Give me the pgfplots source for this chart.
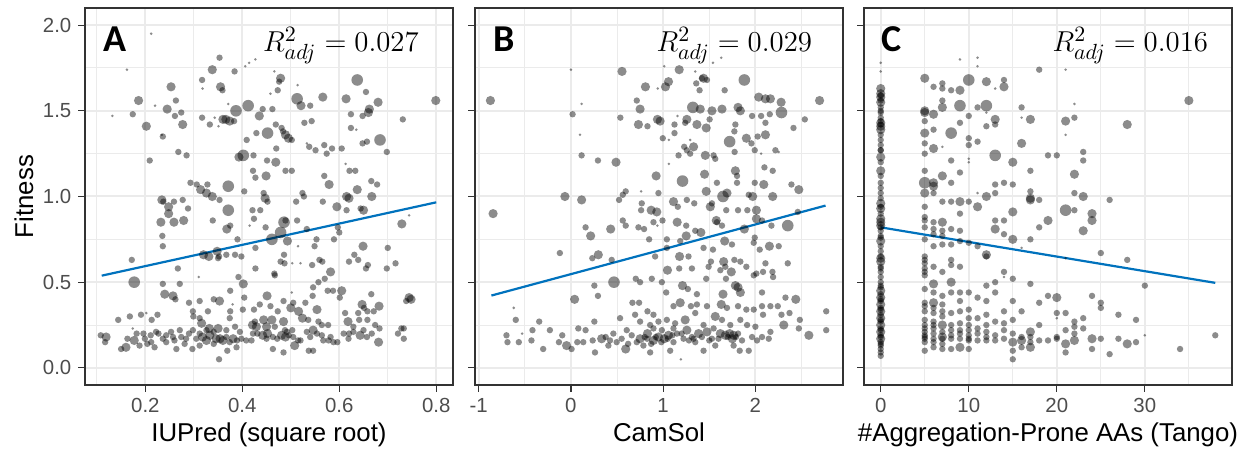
\documentclass[border=0pt]{standalone}
\usepackage[no-math]{fontspec}
\setmainfont{Liberation Sans}
\newfontfamily\tagfont{Carlito}
\usepackage{pgfplots}
\usepackage{pgfplotstable}
\pgfplotsset{compat=1.18}

\definecolor{gridc}{HTML}{EBEBEB}
\definecolor{framec}{HTML}{333333}
\definecolor{tickc}{HTML}{4D4D4D}
\definecolor{fitc}{HTML}{0072BD}

% IUPred (square root) vs fitness; s = point size class
\pgfplotstableread[row sep=\\]{
x y s\\
0.212 1.95 0.65\\ 0.427 1.80 0.65\\ 0.414 1.78 0.65\\ 0.406 1.76 0.65\\ 0.353 1.81 1.3\\ 0.162 1.74 0.65\\ 0.338 1.74 1.85\\ 0.384 1.73 1.3\\
0.466 1.73 0.65\\ 0.317 1.68 1.3\\ 0.479 1.69 1.85\\ 0.476 1.67 1.3\\ 0.637 1.68 2.4\\ 0.253 1.64 1.85\\ 0.355 1.64 1.85\\ 0.359 1.62 1.3\\
0.318 1.63 0.65\\ 0.514 1.65 0.65\\ 0.473 1.62 1.3\\ 0.655 1.61 1.3\\ 0.458 1.60 0.65\\ 0.186 1.56 1.85\\ 0.566 1.58 1.85\\ 0.614 1.57 1.85\\
0.513 1.57 2.4\\ 0.263 1.56 1.3\\ 0.799 1.56 1.85\\ 0.220 1.53 0.65\\ 0.412 1.53 2.4\\ 0.371 1.54 0.65\\ 0.245 1.51 1.85\\ 0.387 1.50 2.4\\
0.442 1.51 1.3\\ 0.462 1.51 1.3\\ 0.521 1.53 1.85\\ 0.540 1.53 1.3\\ 0.680 1.55 1.85\\ 0.662 1.51 1.85\\ 0.660 1.49 1.85\\ 0.624 1.48 1.3\\
0.648 1.47 1.3\\ 0.132 1.47 0.65\\ 0.174 1.48 1.3\\ 0.274 1.49 1.3\\ 0.261 1.47 1.3\\ 0.317 1.46 1.3\\ 0.343 1.46 0.65\\ 0.360 1.45 1.85\\
0.374 1.44 1.85\\ 0.366 1.45 1.85\\ 0.383 1.44 1.3\\ 0.435 1.47 1.85\\ 0.528 1.43 1.3\\ 0.543 1.44 1.3\\ 0.731 1.45 1.3\\ 0.277 1.42 1.85\\
0.202 1.41 1.85\\ 0.333 1.42 1.3\\ 0.351 1.41 0.65\\ 0.469 1.42 1.3\\ 0.481 1.40 1.3\\ 0.624 1.40 1.3\\ 0.635 1.39 0.65\\ 0.236 1.35 1.3\\
0.234 1.36 0.65\\ 0.429 1.37 1.3\\ 0.452 1.37 2.4\\ 0.484 1.38 1.3\\ 0.489 1.36 1.85\\ 0.495 1.34 1.85\\ 0.502 1.33 1.3\\ 0.684 1.33 2.4\\
0.657 1.32 1.3\\ 0.648 1.31 1.3\\ 0.409 1.33 1.3\\ 0.538 1.29 1.3\\ 0.533 1.31 0.65\\ 0.551 1.27 1.3\\ 0.569 1.30 1.3\\ 0.585 1.28 1.3\\
0.574 1.25 1.3\\ 0.605 1.28 1.3\\ 0.470 1.28 1.3\\ 0.268 1.26 1.3\\ 0.285 1.24 1.3\\ 0.402 1.24 2.4\\ 0.393 1.23 1.85\\ 0.423 1.24 1.3\\
0.698 1.26 1.3\\ 0.209 1.21 1.3\\ 0.451 1.21 1.3\\ 0.469 1.20 1.85\\ 0.613 1.19 0.65\\ 0.422 1.15 1.3\\ 0.449 1.12 1.85\\ 0.427 1.11 1.3\\
0.489 1.15 1.3\\ 0.502 1.15 1.3\\ 0.569 1.12 1.3\\ 0.621 1.15 1.3\\ 0.633 1.15 1.3\\ 0.371 1.06 2.4\\ 0.293 1.08 1.3\\ 0.306 1.07 1.3\\
0.328 1.07 1.3\\ 0.404 1.03 1.3\\ 0.579 1.07 1.85\\ 0.666 1.09 1.3\\ 0.678 1.07 1.3\\ 0.637 1.04 1.85\\ 0.314 1.04 1.85\\ 0.326 1.02 1.85\\
0.338 1.00 1.85\\ 0.444 1.02 1.3\\ 0.447 0.99 1.85\\ 0.452 0.97 1.3\\ 0.524 1.02 1.3\\ 0.527 1.00 1.3\\ 0.615 1.00 1.85\\ 0.620 0.99 1.85\\
0.667 1.00 1.85\\ 0.234 0.98 1.85\\ 0.237 0.97 1.3\\ 0.259 0.97 1.3\\ 0.277 0.98 1.3\\ 0.353 0.98 1.3\\ 0.511 0.97 1.3\\ 0.566 0.97 1.3\\
0.595 0.94 1.85\\ 0.615 0.92 1.3\\ 0.644 0.93 1.3\\ 0.650 0.92 1.85\\ 0.248 0.94 1.85\\ 0.288 0.93 1.3\\ 0.371 0.92 2.4\\ 0.421 0.92 1.3\\
0.437 0.92 1.3\\ 0.248 0.90 1.85\\ 0.339 0.86 1.3\\ 0.232 0.85 1.85\\ 0.259 0.85 1.85\\ 0.279 0.86 1.85\\ 0.424 0.87 1.3\\ 0.486 0.85 2.4\\
0.513 0.86 1.3\\ 0.489 0.86 1.3\\ 0.744 0.89 0.65\\ 0.729 0.84 1.85\\ 0.368 0.81 1.85\\ 0.375 0.83 1.3\\ 0.415 0.83 0.65\\ 0.448 0.82 1.3\\
0.479 0.79 2.4\\ 0.533 0.81 1.3\\ 0.597 0.82 1.3\\ 0.600 0.79 1.3\\ 0.235 0.77 1.3\\ 0.390 0.75 1.3\\ 0.461 0.75 2.4\\ 0.493 0.74 1.85\\
0.553 0.75 1.3\\ 0.589 0.75 1.3\\ 0.236 0.71 1.3\\ 0.427 0.70 1.3\\ 0.515 0.71 0.65\\ 0.549 0.71 1.3\\ 0.649 0.71 1.85\\ 0.700 0.70 1.3\\
0.348 0.68 1.85\\ 0.320 0.66 1.85\\ 0.331 0.65 1.85\\ 0.367 0.66 1.3\\ 0.385 0.66 1.3\\ 0.398 0.65 1.3\\ 0.486 0.66 1.3\\ 0.631 0.66 1.3\\
0.350 0.64 1.3\\ 0.352 0.65 1.3\\ 0.172 0.63 1.3\\ 0.479 0.62 1.3\\ 0.487 0.61 1.3\\ 0.503 0.61 0.65\\ 0.520 0.61 0.65\\ 0.544 0.60 1.3\\
0.559 0.63 1.3\\ 0.565 0.62 1.3\\ 0.620 0.62 1.3\\ 0.639 0.63 1.3\\ 0.659 0.60 1.3\\ 0.716 0.61 1.3\\ 0.698 0.58 1.3\\ 0.655 0.58 1.3\\
0.427 0.58 1.3\\ 0.267 0.58 1.3\\ 0.582 0.56 1.85\\ 0.466 0.55 1.3\\ 0.467 0.54 1.3\\ 0.310 0.53 0.65\\ 0.392 0.53 1.3\\ 0.177 0.50 2.4\\
0.236 0.49 1.3\\ 0.271 0.49 1.3\\ 0.402 0.49 1.85\\ 0.570 0.52 1.3\\ 0.546 0.47 1.3\\ 0.557 0.50 1.3\\ 0.375 0.45 1.3\\ 0.240 0.43 1.85\\
0.257 0.42 1.85\\ 0.262 0.40 1.3\\ 0.341 0.40 1.3\\ 0.353 0.39 1.85\\ 0.404 0.41 1.3\\ 0.451 0.42 1.85\\ 0.502 0.44 0.65\\ 0.545 0.42 1.3\\
0.576 0.45 1.3\\ 0.587 0.45 1.3\\ 0.605 0.45 1.85\\ 0.601 0.41 1.3\\ 0.666 0.43 1.3\\ 0.744 0.41 1.85\\ 0.748 0.40 1.85\\ 0.738 0.39 1.3\\
0.290 0.38 1.3\\ 0.312 0.39 1.3\\ 0.380 0.37 0.65\\ 0.485 0.39 1.3\\ 0.505 0.38 1.3\\ 0.530 0.38 1.3\\ 0.436 0.37 1.3\\ 0.458 0.36 1.3\\
0.225 0.31 1.3\\ 0.202 0.32 0.65\\ 0.191 0.31 1.3\\ 0.298 0.33 1.3\\ 0.329 0.33 1.3\\ 0.375 0.33 1.3\\ 0.401 0.34 1.3\\ 0.424 0.34 1.3\\
0.473 0.33 1.3\\ 0.500 0.35 1.85\\ 0.516 0.33 1.85\\ 0.554 0.34 1.85\\ 0.647 0.37 1.85\\ 0.651 0.35 1.3\\ 0.682 0.36 1.85\\ 0.671 0.33 1.3\\
0.658 0.33 1.3\\ 0.612 0.32 1.3\\ 0.639 0.32 1.3\\ 0.168 0.30 1.3\\ 0.144 0.28 1.3\\ 0.213 0.28 1.3\\ 0.299 0.30 1.3\\ 0.312 0.29 1.3\\
0.374 0.29 1.3\\ 0.426 0.27 1.3\\ 0.444 0.28 1.85\\ 0.461 0.28 1.85\\ 0.485 0.27 1.85\\ 0.524 0.29 1.85\\ 0.536 0.28 1.3\\ 0.557 0.27 1.3\\
0.618 0.27 1.85\\ 0.641 0.28 1.3\\ 0.658 0.28 1.3\\ 0.674 0.25 1.3\\ 0.629 0.24 1.3\\ 0.683 0.23 1.3\\ 0.174 0.23 0.65\\ 0.316 0.26 1.85\\
0.332 0.23 1.85\\ 0.350 0.23 1.85\\ 0.385 0.24 1.3\\ 0.421 0.25 1.85\\ 0.429 0.24 1.85\\ 0.450 0.24 1.85\\ 0.467 0.24 1.3\\ 0.488 0.22 1.3\\
0.503 0.22 1.3\\ 0.546 0.22 1.85\\ 0.564 0.25 1.3\\ 0.577 0.25 1.3\\ 0.728 0.23 1.3\\
0.108 0.19 1.3\\ 0.119 0.18 1.85\\ 0.117 0.15 1.3\\ 0.150 0.11 1.3\\ 0.160 0.12 1.85\\ 0.163 0.17 1.3\\ 0.177 0.16 1.85\\ 0.182 0.20 1.3\\
0.199 0.17 1.3\\ 0.204 0.14 1.3\\ 0.211 0.19 1.3\\ 0.219 0.12 1.3\\ 0.227 0.20 1.3\\ 0.236 0.17 1.3\\ 0.243 0.15 1.3\\ 0.253 0.21 1.3\\
0.260 0.16 1.3\\ 0.264 0.11 1.3\\ 0.274 0.18 1.3\\ 0.281 0.14 1.3\\ 0.290 0.20 1.3\\ 0.297 0.11 1.3\\ 0.305 0.17 1.3\\ 0.312 0.13 1.3\\
0.318 0.18 1.85\\ 0.326 0.16 1.85\\ 0.333 0.19 1.85\\ 0.341 0.14 1.3\\ 0.346 0.17 1.85\\ 0.354 0.17 1.85\\ 0.360 0.16 1.85\\ 0.367 0.18 1.3\\
0.374 0.15 1.3\\ 0.381 0.17 1.85\\ 0.389 0.16 1.3\\ 0.398 0.17 1.3\\ 0.352 0.05 1.3\\ 0.369 0.10 1.3\\ 0.388 0.12 1.3\\ 0.408 0.16 1.3\\
0.419 0.16 1.3\\ 0.431 0.20 1.3\\ 0.442 0.19 1.85\\ 0.452 0.20 1.85\\ 0.463 0.18 1.3\\ 0.472 0.17 1.3\\ 0.481 0.19 1.85\\ 0.489 0.18 1.85\\
0.496 0.19 1.3\\ 0.505 0.18 1.3\\ 0.515 0.16 1.3\\ 0.520 0.16 1.3\\ 0.508 0.13 1.85\\ 0.485 0.09 1.3\\ 0.537 0.10 1.3\\ 0.546 0.10 1.3\\
0.463 0.11 1.3\\ 0.540 0.18 1.3\\ 0.554 0.20 1.3\\ 0.564 0.19 1.3\\ 0.582 0.18 1.3\\ 0.578 0.16 1.3\\ 0.588 0.15 1.3\\ 0.596 0.15 1.3\\
0.609 0.20 1.3\\ 0.620 0.20 1.3\\ 0.629 0.21 1.3\\ 0.643 0.19 1.85\\ 0.657 0.18 1.3\\ 0.681 0.15 1.85\\ 0.721 0.20 1.3\\ 0.733 0.17 1.3\\
0.733 0.23 1.3\\ 0.326 0.22 1.3\\ 0.341 0.21 1.3\\ 0.312 0.20 1.3\\ 0.298 0.22 1.3\\ 0.271 0.22 1.3\\ 0.222 0.21 1.3\\ 0.196 0.20 1.3\\
0.243 0.19 1.3\\ 0.257 0.18 1.3\\ 0.284 0.17 1.3\\ 0.212 0.15 1.3\\ 0.188 0.13 1.3\\ 0.367 0.22 1.3\\ 0.395 0.21 1.3\\ 0.422 0.20 1.3\\
0.450 0.17 1.3\\ 0.492 0.21 1.3\\ 0.533 0.21 1.3\\ 0.567 0.16 1.3\\ 0.619 0.17 1.3\\ 0.667 0.20 1.3\\ 0.650 0.22 1.3\\
}\tabA

% CamSol vs fitness
\pgfplotstableread[row sep=\\]{
x y s\\
-0.873 1.56 1.85\\ -0.844 0.90 1.85\\ 0.000 1.74 0.65\\ 0.116 1.54 0.65\\ 0.018 1.48 1.3\\ 0.098 1.36 0.65\\ 0.116 1.24 1.3\\ 0.293 1.21 1.3\\
0.489 1.20 1.85\\ -0.065 1.00 1.85\\ 0.116 0.98 1.85\\ 0.159 0.82 1.3\\ 0.214 0.77 1.85\\ 0.431 0.81 1.85\\ -0.120 0.67 1.3\\ 0.232 0.64 1.3\\
0.297 0.66 1.85\\ 0.442 0.63 1.3\\ 0.467 0.50 2.4\\ 0.254 0.48 1.3\\ 0.040 0.40 1.85\\ 0.293 0.42 1.3\\ 0.554 1.73 1.85\\ 0.808 1.64 1.85\\
0.942 1.63 0.65\\ 1.025 1.64 1.85\\ 1.058 1.67 1.85\\ 1.011 1.76 0.65\\ 1.174 1.74 1.85\\ 1.348 1.73 0.65\\ 1.438 1.69 1.85\\ 1.475 1.68 1.3\\
1.420 1.69 1.3\\ 1.359 1.66 1.3\\ 1.395 1.62 1.3\\ 1.540 1.78 0.65\\ 1.630 1.81 0.65\\ 1.880 1.68 2.4\\ 1.667 1.62 1.3\\ 0.714 1.56 1.3\\
0.750 1.51 1.85\\ 1.322 1.52 2.4\\ 1.402 1.51 1.85\\ 1.529 1.50 1.85\\ 1.638 1.51 1.85\\ 1.812 1.52 1.85\\ 1.837 1.50 1.85\\ 2.036 1.58 1.85\\
2.109 1.57 1.85\\ 2.163 1.57 1.85\\ 2.279 1.55 1.85\\ 2.283 1.49 2.4\\ 2.696 1.56 1.85\\ 2.536 1.45 1.3\\ 2.413 1.40 1.3\\ 0.536 1.46 1.3\\
0.732 1.42 1.85\\ 0.830 1.41 1.3\\ 0.938 1.45 1.85\\ 0.967 1.44 1.85\\ 1.257 1.45 1.85\\ 1.156 1.47 0.65\\ 1.123 1.42 1.3\\ 1.239 1.43 1.3\\
1.366 1.42 1.85\\ 1.467 1.40 1.85\\ 1.504 1.45 1.3\\ 1.783 1.42 1.3\\ 1.772 1.38 1.3\\ 1.964 1.47 1.3\\ 2.062 1.47 1.3\\ 2.156 1.48 1.3\\
2.109 1.43 1.3\\ 2.109 1.36 1.85\\ 2.025 1.35 1.3\\ 1.902 1.34 1.85\\ 1.721 1.32 2.4\\ 1.957 1.31 1.3\\ 0.996 1.34 1.3\\ 1.123 1.37 1.3\\
1.062 1.33 0.65\\ 1.293 1.33 0.65\\ 1.330 1.29 1.85\\ 1.228 1.29 1.3\\ 1.257 1.27 1.3\\ 1.167 1.24 1.3\\ 1.293 1.25 1.3\\ 1.457 1.24 1.85\\
1.547 1.24 1.3\\ 1.565 1.22 1.3\\ 1.775 1.26 1.3\\ 1.993 1.27 1.3\\ 2.217 1.27 1.3\\ 2.253 1.26 0.65\\ 2.062 1.25 0.65\\ 1.062 1.19 0.65\\
0.924 1.12 1.85\\ 1.210 1.09 2.4\\ 1.449 1.13 1.85\\ 1.583 1.08 1.3\\ 1.783 1.15 1.85\\ 1.801 1.12 1.3\\ 1.801 1.08 1.3\\ 1.993 1.08 1.3\\
2.091 1.07 1.85\\ 2.098 1.17 1.3\\ 2.188 1.15 1.3\\ 2.391 1.07 1.3\\ 2.471 1.04 1.85\\ 0.594 1.03 1.3\\ 0.562 1.01 1.3\\ 0.522 0.98 1.3\\
0.761 1.03 0.65\\ 0.949 1.02 1.3\\ 1.112 0.97 1.85\\ 1.159 0.94 1.3\\ 1.257 0.98 1.3\\ 1.337 0.96 1.3\\ 1.467 1.03 1.85\\ 1.529 0.96 1.3\\
1.649 1.00 2.4\\ 1.692 1.02 1.85\\ 1.928 1.01 1.3\\ 1.971 1.00 1.85\\ 2.188 1.00 1.85\\ 0.768 0.96 1.3\\ 0.761 0.92 1.3\\ 0.870 0.92 1.85\\
0.931 0.91 1.85\\ 0.993 0.86 1.3\\ 0.895 0.85 1.3\\ 1.511 0.94 1.85\\ 1.684 0.92 1.3\\ 1.812 0.92 1.3\\ 1.913 0.92 1.3\\ 2.011 0.92 1.85\\
2.011 0.87 1.85\\ 2.072 0.86 1.3\\ 2.460 0.91 1.3\\ 2.351 0.83 2.4\\ 2.174 0.83 1.3\\ 0.562 0.86 1.3\\ 0.594 0.83 1.3\\ 0.732 0.82 1.3\\
0.793 0.81 1.3\\ 0.938 0.83 0.65\\ 1.152 0.85 1.85\\ 1.250 0.83 1.3\\ 1.348 0.80 1.3\\ 1.409 0.79 1.85\\ 1.576 0.86 1.85\\ 1.583 0.85 1.3\\
1.638 0.83 1.3\\ 1.880 0.81 1.85\\ 1.250 0.77 1.85\\ 0.848 0.75 1.3\\ 1.040 0.75 1.3\\ 1.185 0.74 1.3\\ 1.667 0.74 1.85\\ 1.746 0.72 1.3\\
1.993 0.76 1.3\\ 1.982 0.73 1.3\\ 1.040 0.70 1.3\\ 1.438 0.70 1.3\\ 1.540 0.69 1.3\\ 2.047 0.69 1.3\\ 2.152 0.71 1.85\\ 2.253 0.71 1.3\\
1.178 0.65 1.85\\ 1.275 0.65 1.3\\ 1.518 0.62 1.3\\ 1.656 0.62 1.85\\ 1.674 0.59 1.3\\ 1.772 0.63 1.3\\ 1.837 0.62 1.3\\ 1.902 0.59 1.3\\
2.109 0.61 1.3\\ 1.493 0.59 1.3\\ 2.351 0.61 1.3\\ 0.913 0.65 1.3\\ 1.174 0.58 1.3\\ 1.312 0.58 1.3\\ 1.047 0.57 1.85\\ 1.620 0.57 1.3\\
1.739 0.56 1.85\\ 1.982 0.54 1.3\\ 2.011 0.55 1.3\\ 2.083 0.56 1.3\\ 2.185 0.56 1.3\\ 0.703 0.52 1.3\\ 0.750 0.50 1.3\\ 0.877 0.52 1.3\\
0.986 0.50 1.3\\ 1.210 0.48 1.85\\ 1.467 0.52 1.3\\ 1.681 0.52 1.3\\ 1.783 0.48 1.85\\ 1.812 0.47 1.85\\ 1.837 0.44 1.85\\ 2.192 0.53 1.3\\
1.268 0.46 1.3\\ 1.366 0.43 1.3\\ 1.033 0.44 1.3\\ 1.649 0.43 1.85\\ 2.072 0.44 1.3\\ 2.326 0.41 1.3\\ 2.438 0.40 1.85\\ 2.768 0.33 1.3\\
2.768 0.22 1.3\\ 2.580 0.19 1.85\\ 2.482 0.28 1.3\\ 2.471 0.23 1.3\\ 2.308 0.25 1.85\\ 2.370 0.32 1.3\\ 2.283 0.31 1.3\\ 2.072 0.36 1.3\\
2.163 0.36 1.3\\ 2.243 0.36 1.3\\ 2.083 0.31 1.3\\ 2.163 0.21 1.3\\ 0.667 0.38 1.3\\ 0.739 0.38 1.3\\ 0.830 0.33 1.3\\ 0.895 0.31 1.3\\
1.112 0.36 1.3\\ 1.185 0.38 1.85\\ 1.301 0.36 1.3\\ 1.366 0.37 1.3\\ 1.475 0.36 1.3\\ 1.630 0.37 1.85\\ 1.692 0.35 1.3\\ 1.812 0.36 1.3\\
1.902 0.34 1.3\\ 1.982 0.34 1.3\\ -0.620 0.35 0.65\\ -0.598 0.28 1.3\\ -0.344 0.27 1.3\\ -0.699 0.19 1.3\\ -0.688 0.15 1.3\\ -0.565 0.15 1.3\\
-0.529 0.20 0.65\\ -0.428 0.16 1.3\\ -0.417 0.22 1.3\\ -0.228 0.22 1.3\\ -0.301 0.11 1.3\\ -0.094 0.19 1.3\\ -0.130 0.15 1.3\\ -0.047 0.13 1.85\\
0.007 0.11 1.3\\ 0.069 0.15 1.3\\ 0.080 0.23 1.3\\ 0.159 0.22 1.3\\ 0.134 0.15 1.3\\ 0.254 0.27 1.3\\ 0.236 0.16 1.3\\ 0.261 0.09 1.3\\
0.333 0.17 1.85\\ 0.377 0.18 1.3\\ 0.424 0.16 1.3\\ 0.460 0.20 1.3\\ 0.496 0.15 1.3\\ 0.533 0.29 1.3\\ 0.594 0.11 1.85\\ 0.659 0.19 1.3\\
0.714 0.15 1.3\\ 0.750 0.17 1.85\\ 0.786 0.13 1.3\\ 0.830 0.20 1.85\\ 0.859 0.09 1.3\\ 0.895 0.16 1.85\\ 0.949 0.18 1.85\\ 0.986 0.22 1.3\\
1.011 0.17 1.85\\ 1.058 0.19 1.85\\ 1.076 0.10 1.3\\ 1.112 0.15 1.3\\ 1.149 0.20 1.3\\ 1.192 0.05 0.65\\ 1.221 0.17 1.3\\ 1.257 0.22 1.85\\
1.312 0.18 1.3\\ 1.348 0.15 1.3\\ 1.384 0.20 1.85\\ 1.438 0.10 1.3\\ 1.475 0.21 1.85\\ 1.529 0.17 1.3\\ 1.565 0.13 1.3\\ 1.620 0.20 1.85\\
1.674 0.19 1.85\\ 1.721 0.20 1.85\\ 1.764 0.19 1.85\\ 1.812 0.20 1.3\\ 1.830 0.10 1.3\\ 1.855 0.16 1.3\\ 1.928 0.10 1.3\\ 1.964 0.18 1.3\\
2.018 0.16 1.3\\ 2.072 0.18 1.3\\ 2.145 0.17 1.3\\ 0.696 0.31 1.3\\ 0.750 0.27 1.3\\ 0.859 0.25 1.3\\ 0.949 0.27 1.3\\ 1.040 0.28 1.3\\
1.130 0.26 1.3\\ 1.239 0.28 1.85\\ 1.348 0.32 1.3\\ 1.438 0.25 1.3\\ 1.565 0.30 1.85\\ 1.638 0.28 1.3\\ 1.728 0.25 1.3\\ 1.837 0.28 1.3\\
1.910 0.25 1.3\\ 1.112 0.23 1.3\\ 0.895 0.23 1.3\\ 0.605 0.22 1.3\\ 0.406 0.13 1.3\\ 0.826 0.17 1.3\\ 1.330 0.17 1.3\\ 1.547 0.23 1.3\\
1.764 0.13 1.3\\ 2.000 0.24 1.3\\ 0.920 0.18 1.3\\ 0.980 0.15 1.3\\ 1.050 0.17 1.3\\ 1.100 0.19 1.3\\ 1.200 0.20 1.3\\ 1.280 0.16 1.3\\
1.420 0.18 1.3\\ 1.500 0.16 1.3\\ 1.600 0.17 1.3\\ 1.700 0.18 1.3\\ 1.750 0.17 1.85\\ 1.790 0.18 1.3\\ 0.870 0.14 1.3\\ 0.800 0.18 1.3\\
0.550 0.17 1.3\\ 0.620 0.14 1.3\\
}\tabB

% number of aggregation-prone AAs (Tango) vs fitness
\pgfplotstableread[row sep=\\]{
x y s\\
0 1.78 0.65\\ 0 1.73 0.65\\ 0 1.63 1.85\\ 0 1.60 1.85\\ 0 1.58 1.85\\ 0 1.55 1.85\\ 0 1.52 1.3\\ 0 1.49 1.3\\ 0 1.46 1.3\\ 0 1.43 1.85\\
0 1.41 1.85\\ 0 1.39 1.85\\ 0 1.36 1.3\\ 0 1.33 1.3\\ 0 1.30 1.3\\ 0 1.27 1.3\\ 0 1.23 1.85\\ 0 1.20 1.3\\ 0 1.15 1.85\\ 0 1.12 1.3\\
0 1.08 1.3\\ 0 1.05 1.3\\ 0 1.02 1.3\\ 0 0.99 1.3\\ 0 0.96 1.85\\ 0 0.93 1.85\\ 0 0.90 1.3\\ 0 0.87 1.85\\ 0 0.85 1.85\\ 0 0.83 1.85\\
0 0.80 1.3\\ 0 0.77 1.3\\ 0 0.74 1.85\\ 0 0.71 1.3\\ 0 0.68 1.3\\ 0 0.64 1.85\\ 0 0.62 1.85\\ 0 0.59 1.3\\ 0 0.56 1.3\\ 0 0.53 1.3\\
0 0.50 1.3\\ 0 0.48 1.3\\ 0 0.45 1.85\\ 0 0.43 1.3\\ 0 0.41 1.85\\ 0 0.39 1.3\\ 0 0.37 1.85\\ 0 0.35 1.3\\ 0 0.33 1.85\\ 0 0.31 1.3\\
0 0.29 1.85\\ 0 0.27 1.3\\ 0 0.25 1.85\\ 0 0.23 1.3\\ 0 0.21 1.85\\ 0 0.19 1.3\\ 0 0.17 1.85\\ 0 0.15 1.3\\ 0 0.13 1.3\\ 0 0.11 1.3\\
0 0.09 1.3\\ 0 0.07 1.3\\ 0 1.59 1.3\\ 0 1.42 1.3\\ 0 1.27 1.3\\ 0 0.94 1.3\\ 0 0.82 1.3\\ 0 0.65 1.3\\ 0 0.47 1.3\\ 0 0.40 1.3\\
0 0.34 1.3\\ 0 0.28 1.3\\ 0 0.22 1.3\\ 0 0.18 1.3\\ 0 0.14 1.3\\ 0 1.56 1.3\\ 0 1.50 1.3\\ 0 1.44 1.3\\ 0 0.76 1.3\\ 0 0.58 1.3\\
5 1.69 1.85\\ 5 1.50 1.85\\ 5 1.49 1.85\\ 5 1.44 1.3\\ 5 1.37 1.85\\ 5 1.31 1.3\\ 5 1.25 1.3\\ 5 1.15 1.3\\ 5 1.08 2.4\\ 5 1.02 1.85\\
5 0.94 1.3\\ 5 0.88 1.3\\ 5 0.86 1.3\\ 5 0.82 1.3\\ 5 0.75 1.3\\ 5 0.65 1.3\\ 5 0.61 1.3\\ 5 0.58 1.3\\ 5 0.54 1.3\\ 5 0.46 1.3\\
5 0.38 1.3\\ 5 0.33 1.3\\ 5 0.28 1.3\\ 5 0.25 1.3\\ 5 0.21 1.3\\ 5 0.19 1.3\\ 5 0.17 1.3\\ 5 0.15 1.3\\ 5 0.10 1.3\\ 5 0.63 1.3\\
5 0.56 1.3\\ 5 0.36 1.3\\ 5 0.23 1.3\\ 5 0.18 1.3\\
6 1.64 1.3\\ 6 1.48 1.85\\ 6 1.39 1.3\\ 6 1.28 1.85\\ 6 1.08 1.85\\ 6 1.06 1.85\\ 6 1.02 1.3\\ 6 0.85 1.3\\ 6 0.81 1.3\\ 6 0.78 1.3\\
6 0.71 1.3\\ 6 0.59 1.3\\ 6 0.49 1.85\\ 6 0.44 1.3\\ 6 0.38 1.85\\ 6 0.32 1.3\\ 6 0.27 1.3\\ 6 0.23 1.3\\ 6 0.20 1.3\\ 6 0.17 1.3\\
6 0.15 1.3\\ 6 0.12 1.3\\ 6 0.35 1.3\\ 6 0.25 1.3\\
7 1.66 1.3\\ 7 1.63 1.3\\ 7 1.56 1.3\\ 7 1.52 1.85\\ 7 1.29 0.65\\ 7 1.12 1.85\\ 7 0.97 1.3\\ 7 0.85 1.85\\ 7 0.80 1.3\\ 7 0.77 1.3\\
7 0.72 1.3\\ 7 0.56 1.3\\ 7 0.42 1.3\\ 7 0.37 1.3\\ 7 0.33 1.3\\ 7 0.30 1.3\\ 7 0.25 1.85\\ 7 0.21 1.3\\ 7 0.18 1.85\\ 7 0.17 1.3\\
7 0.14 1.3\\ 7 0.11 1.3\\
8 1.62 1.3\\ 8 1.37 2.4\\ 8 1.21 1.3\\ 8 1.08 1.3\\ 8 0.97 1.3\\ 8 0.81 1.3\\ 8 0.72 1.3\\ 8 0.63 1.3\\ 8 0.60 1.3\\ 8 0.50 1.85\\
8 0.44 1.3\\ 8 0.32 1.3\\ 8 0.25 1.3\\ 8 0.22 1.3\\ 8 0.19 1.3\\ 8 0.17 1.3\\ 8 0.11 1.3\\
9 1.80 0.65\\ 9 1.62 1.85\\ 9 1.53 2.4\\ 9 1.43 1.3\\ 9 1.14 1.3\\ 9 0.97 1.85\\ 9 0.90 1.3\\ 9 0.80 1.3\\ 9 0.74 1.3\\ 9 0.59 1.3\\
9 0.44 1.3\\ 9 0.39 1.3\\ 9 0.33 1.3\\ 9 0.26 1.3\\ 9 0.22 1.3\\ 9 0.20 1.3\\ 9 0.17 1.3\\ 9 0.12 1.85\\
10 1.68 2.4\\ 10 1.47 1.3\\ 10 1.34 1.3\\ 10 1.30 1.3\\ 10 1.22 0.65\\ 10 1.20 0.65\\ 10 0.97 1.3\\ 10 0.73 1.3\\ 10 0.44 1.3\\ 10 0.34 1.3\\
10 0.29 1.3\\ 10 0.25 1.3\\ 10 0.22 1.3\\ 10 0.19 1.3\\ 10 0.17 1.3\\ 10 0.16 1.3\\ 10 0.11 1.3\\
11 1.81 0.65\\ 11 1.76 0.65\\ 11 1.52 1.3\\ 11 1.32 1.3\\ 11 1.02 0.65\\ 11 0.94 1.85\\ 11 0.71 1.3\\ 11 0.41 1.3\\ 11 0.29 1.3\\ 11 0.23 1.3\\
11 0.20 1.3\\ 11 0.16 1.3\\
12 1.67 1.85\\ 12 1.53 2.4\\ 12 1.49 0.65\\ 12 1.41 1.3\\ 12 1.00 1.85\\ 12 0.66 1.85\\ 12 0.65 1.3\\ 12 0.48 1.3\\ 12 0.39 1.3\\ 12 0.31 1.3\\
12 0.25 1.3\\ 12 0.21 1.3\\ 12 0.18 1.3\\ 12 0.16 1.3\\
13 1.63 0.65\\ 13 1.45 1.85\\ 13 1.42 1.3\\ 13 1.24 2.4\\ 13 1.07 1.3\\ 13 1.02 1.3\\ 13 0.86 1.3\\ 13 0.81 1.85\\ 13 0.50 1.3\\ 13 0.44 1.3\\
13 0.27 1.3\\ 13 0.19 1.3\\ 13 0.16 1.3\\
14 1.68 1.3\\ 14 1.64 1.85\\ 14 1.08 1.3\\ 14 0.86 1.3\\ 14 0.78 1.3\\ 14 0.56 1.3\\ 14 0.53 0.65\\ 14 0.33 1.3\\ 14 0.26 1.3\\ 14 0.22 1.3\\
14 0.17 1.3\\
15 1.20 1.85\\ 15 1.07 1.3\\ 15 0.91 1.85\\ 15 0.75 1.85\\ 15 0.52 1.3\\ 15 0.39 1.3\\ 15 0.28 1.3\\ 15 0.20 1.3\\ 15 0.15 1.85\\ 15 0.10 1.3\\
15 0.05 1.3\\
16 1.52 1.3\\ 16 1.46 0.65\\ 16 1.31 1.85\\ 16 0.70 0.65\\ 16 0.33 1.3\\ 16 0.18 1.3\\ 16 0.16 1.85\\ 16 0.12 1.3\\
17 1.45 1.85\\ 17 1.15 1.3\\ 17 1.03 1.3\\ 17 0.99 1.85\\ 17 0.98 1.85\\ 17 0.75 1.3\\ 17 0.49 1.3\\ 17 0.21 1.85\\ 17 0.18 1.3\\ 17 0.15 1.3\\
17 0.12 1.85\\
18 1.74 1.3\\ 18 0.98 1.3\\ 18 0.82 1.3\\ 18 0.38 1.3\\ 18 0.25 1.3\\ 18 0.16 1.3\\
19 1.24 1.3\\ 19 0.86 1.85\\ 19 0.42 1.3\\ 19 0.16 1.3\\
20 1.24 1.3\\ 20 0.41 1.85\\ 20 0.32 1.3\\ 20 0.29 0.65\\ 20 0.18 1.3\\ 20 0.17 1.3\\
21 1.74 0.65\\ 21 1.44 1.85\\ 21 1.36 0.65\\ 21 0.92 2.4\\ 21 0.64 0.65\\ 21 0.32 1.3\\ 21 0.22 1.3\\ 21 0.14 1.85\\ 21 0.09 1.3\\
22 1.54 0.65\\ 22 1.46 1.3\\ 22 1.13 1.85\\ 22 1.02 1.3\\ 22 0.92 1.3\\ 22 0.27 1.3\\ 22 0.24 1.3\\ 22 0.20 1.3\\ 22 0.16 1.85\\
23 1.26 1.3\\ 23 1.21 1.3\\ 23 1.00 1.85\\ 23 0.80 1.85\\ 23 0.29 1.3\\ 23 0.23 1.3\\
24 0.90 1.85\\ 24 0.86 1.85\\ 24 0.42 1.3\\ 24 0.17 1.85\\ 24 0.11 1.3\\
25 0.67 1.3\\ 25 0.38 1.3\\ 25 0.35 1.3\\ 25 0.17 1.3\\
26 0.98 1.3\\ 26 0.08 1.3\\ 27 0.31 1.3\\ 27 0.17 1.3\\ 28 1.42 1.85\\ 28 0.63 1.3\\ 28 0.14 1.85\\ 29 0.28 1.3\\ 29 0.15 1.3\\
30 0.48 1.3\\ 30 0.19 0.65\\ 34 0.11 1.3\\ 35 1.56 1.85\\ 38 0.19 1.3\\
}\tabC

\pgfplotsset{
  panel/.style={
    scale only axis, width=184pt, height=188.5pt, anchor=south west,
    ymin=-0.1, ymax=2.1,
    ytick={0,0.5,1,1.5,2}, minor ytick={0.25,0.75,1.25,1.75},
    grid=both,
    major grid style={gridc, line width=1pt},
    minor grid style={gridc, line width=0.5pt},
    axis line style={framec, line width=0.6pt},
    tick align=outside, tick pos=left,
    major tick length=3.3pt, minor tick length=0pt,
    tick style={framec, line width=0.6pt},
    ticklabel style={font=\fontsize{10.2}{12}\selectfont, text=tickc},
    label style={font=\fontsize{12.9}{15}\selectfont, text=black},
    xlabel style={at={(axis description cs:0.5,0)}, anchor=base, yshift=-28.5pt},
  },
  pts/.style={
    only marks, mark=*,
    mark options={draw opacity=0, fill=black, fill opacity=0.45},
  },
}

% one plot per point size class (column s)
\newcommand\sizeddots[1]{%
  \addplot[pts, mark size=0.7pt, restrict expr to domain={\thisrow{s}}{0.6:0.7}] table[x=x, y=y] {#1};
  \addplot[pts, mark size=1.6pt, restrict expr to domain={\thisrow{s}}{1.2:1.4}] table[x=x, y=y] {#1};
  \addplot[pts, mark size=2.3pt, restrict expr to domain={\thisrow{s}}{1.8:1.9}] table[x=x, y=y] {#1};
  \addplot[pts, mark size=2.9pt, restrict expr to domain={\thisrow{s}}{2.3:2.5}] table[x=x, y=y] {#1};
}

\begin{document}
\begin{tikzpicture}
\useasboundingbox (0,0) rectangle (625pt,224.5pt);

\begin{axis}[panel, at={(42.5pt,32pt)},
  xmin=0.0755, xmax=0.8345,
  xtick={0.2,0.4,0.6,0.8}, xticklabels={0.2,0.4,0.6,0.8},
  minor xtick={0.1,0.3,0.5,0.7},
  yticklabels={0.0,0.5,1.0,1.5,2.0},
  xlabel={IUPred (square root)}, ylabel={Fitness},
  ylabel style={at={(axis description cs:-0.166,0.5)}, anchor=center},
]
  \sizeddots{\tabA}
  \addplot[fitc, line width=1.1pt] coordinates {(0.11,0.538) (0.80,0.966)};
  \node[anchor=base west, font=\fontsize{19}{22}\selectfont\tagfont\bfseries] at (rel axis cs:0.030,0.884) {A};
  \node[anchor=base east, font=\fontsize{15}{18}\selectfont] at (rel axis cs:0.926,0.884) {$R^2_{adj} = 0.027$};
\end{axis}

\begin{axis}[panel, at={(237.5pt,32pt)},
  xmin=-1.04, xmax=2.95,
  xtick={-1,0,1,2}, xticklabels={-1,0,1,2},
  minor xtick={-0.5,0.5,1.5,2.5},
  yticklabels={},
  xlabel={CamSol},
]
  \sizeddots{\tabB}
  \addplot[fitc, line width=1.1pt] coordinates {(-0.862,0.422) (2.761,0.947)};
  \node[anchor=base west, font=\fontsize{19}{22}\selectfont\tagfont\bfseries] at (rel axis cs:0.032,0.884) {B};
  \node[anchor=base east, font=\fontsize{15}{18}\selectfont] at (rel axis cs:0.935,0.884) {$R^2_{adj} = 0.029$};
\end{axis}

\begin{axis}[panel, at={(432pt,32pt)},
  xmin=-1.9, xmax=39.9,
  xtick={0,10,20,30}, xticklabels={0,10,20,30},
  minor xtick={5,15,25,35},
  yticklabels={},
  xlabel={\#Aggregation-Prone AAs (Tango)},
]
  \sizeddots{\tabC}
  \addplot[fitc, line width=1.1pt] coordinates {(0,0.820) (38,0.496)};
  \node[anchor=base west, font=\fontsize{19}{22}\selectfont\tagfont\bfseries] at (rel axis cs:0.027,0.884) {C};
  \node[anchor=base east, font=\fontsize{15}{18}\selectfont] at (rel axis cs:0.954,0.884) {$R^2_{adj} = 0.016$};
\end{axis}
\end{tikzpicture}
\end{document}
